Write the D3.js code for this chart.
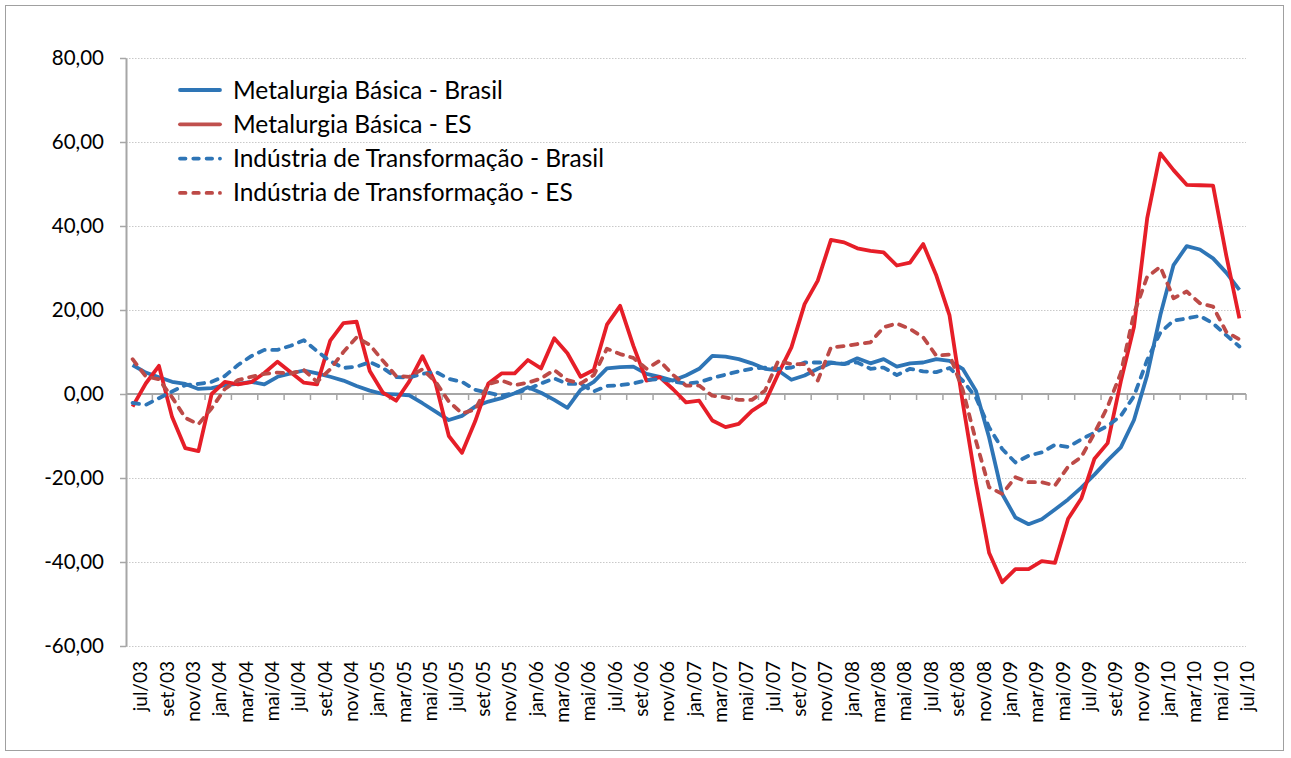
<!DOCTYPE html>
<html>
<head>
<meta charset="utf-8">
<script src="https://cdn.jsdelivr.net/npm/d3@7"></script>
<style>
  body { margin: 0; background: #fff; }
  svg { display: block; font-family: Lato, "Open Sans", sans-serif; }
</style>
</head>
<body>
<div id="grafico"></div>
<script>
/*************************** DADOS ***************************/
// meses (jul/03 a jul/10)
var meses = [
  'jul/03','ago/03','set/03','out/03','nov/03','dez/03',
  'jan/04','fev/04','mar/04','abr/04','mai/04','jun/04','jul/04','ago/04','set/04','out/04','nov/04','dez/04',
  'jan/05','fev/05','mar/05','abr/05','mai/05','jun/05','jul/05','ago/05','set/05','out/05','nov/05','dez/05',
  'jan/06','fev/06','mar/06','abr/06','mai/06','jun/06','jul/06','ago/06','set/06','out/06','nov/06','dez/06',
  'jan/07','fev/07','mar/07','abr/07','mai/07','jun/07','jul/07','ago/07','set/07','out/07','nov/07','dez/07',
  'jan/08','fev/08','mar/08','abr/08','mai/08','jun/08','jul/08','ago/08','set/08','out/08','nov/08','dez/08',
  'jan/09','fev/09','mar/09','abr/09','mai/09','jun/09','jul/09','ago/09','set/09','out/09','nov/09','dez/09',
  'jan/10','fev/10','mar/10','abr/10','mai/10','jun/10','jul/10'
];

var metalurgiaBrasil = [
  6.9, 5.1, 4.0, 2.9, 2.4, 1.2,
  1.4, 2.1, 2.4, 2.9, 2.3, 4.1, 4.9, 5.6, 4.9, 4.1, 3.2, 1.9,
  0.8, 0.0, -0.1, -0.3, -2.2, -4.2, -6.2, -5.2, -3.0, -1.8, -1.0, 0.2,
  1.6, 0.3, -1.4, -3.3, 1.0, 2.9, 6.1, 6.4, 6.5, 4.8, 4.1, 3.2,
  4.4, 6.0, 9.1, 8.9, 8.3, 7.3, 6.0, 5.6, 3.4, 4.4, 6.0, 7.4,
  7.1, 8.5, 7.3, 8.3, 6.5, 7.3, 7.5, 8.3, 7.9, 6.0, 0.8, -10.3,
  -23.8, -29.4, -31.0, -29.8, -27.5, -25.1, -22.3, -19.2, -15.8, -12.7, -6.2, 4.5,
  18.8, 30.7, 35.2, 34.4, 32.3, 28.9, 24.8
];

var metalurgiaES = [
  -3.0, 2.5, 6.7, -5.5, -12.9, -13.6,
  0.0, 2.9, 2.3, 2.8, 5.0, 7.7, 5.2, 2.7, 2.3, 12.7, 16.9, 17.2,
  5.5, 0.3, -1.6, 3.0, 9.0, 2.5, -10.0, -14.0, -6.5, 2.5, 4.9, 4.9,
  8.1, 6.1, 13.3, 9.7, 4.1, 5.7, 16.5, 21.0, 11.5, 3.2, 4.0, 1.2,
  -2.0, -1.6, -6.3, -7.9, -7.1, -4.0, -2.0, 4.8, 11.1, 21.4, 27.0, 36.7,
  36.1, 34.7, 34.1, 33.7, 30.6, 31.3, 35.7, 28.2, 18.7, -2.0, -21.0, -37.8,
  -44.8, -41.7, -41.7, -39.8, -40.2, -29.7, -24.9, -15.4, -11.7, 3.0, 16.0, 41.8,
  57.3, 53.3, 49.8, 49.7, 49.6, 33.0, 18.0
];

var industriaBrasil = [
  -2.1, -2.6, -1.0, 0.6, 2.1, 2.4,
  2.9, 4.3, 6.9, 9.0, 10.5, 10.5, 11.5, 12.8, 10.2, 7.8, 6.2, 6.5,
  7.6, 6.2, 4.0, 3.9, 4.8, 5.3, 3.6, 2.9, 1.0, 0.3, -0.4, 0.2,
  1.1, 2.5, 3.7, 2.4, 2.4, 0.6, 1.9, 2.1, 2.5, 3.3, 3.6, 3.0,
  2.5, 2.8, 3.8, 4.6, 5.4, 6.0, 6.3, 6.0, 6.3, 7.5, 7.5, 7.5,
  7.2, 7.5, 6.0, 6.3, 4.5, 6.0, 5.4, 5.2, 6.2, 3.2, -0.8, -7.9,
  -13.1, -16.3, -14.7, -13.9, -12.1, -12.6, -10.8, -9.2, -7.6, -5.2, -0.5, 8.1,
  14.6, 17.5, 18.0, 18.6, 16.8, 14.0, 11.3
];

var industriaES = [
  8.3, 4.2, 3.5, -0.8, -5.7, -7.2,
  -3.4, 1.2, 3.3, 4.1, 4.8, 5.1, 4.9, 5.7, 2.9, 5.9, 10.0, 13.5,
  11.7, 7.9, 4.3, 4.1, 5.9, 2.9, -1.8, -4.6, -3.7, 2.4, 3.2, 2.1,
  2.7, 3.7, 5.7, 3.3, 2.5, 4.5, 10.8, 9.5, 8.6, 6.0, 7.9, 4.6,
  2.0, 2.0, -0.4, -0.8, -1.4, -1.4, 0.8, 7.9, 7.1, 7.1, 3.2, 11.1,
  11.4, 11.9, 12.3, 15.9, 16.8, 15.5, 13.5, 9.1, 9.4, 1.0, -11.1, -22.2,
  -23.8, -19.8, -21.0, -21.0, -21.8, -17.3, -15.0, -9.3, -3.0, 5.0, 19.2, 27.9,
  30.3, 22.8, 24.4, 21.6, 20.8, 14.8, 13.0
];

var ticksY = [-60, -40, -20, 0, 20, 40, 60, 80];

var nomesSeries = [
  'Metalurgia Básica - Brasil',
  'Metalurgia Básica - ES',
  'Indústria de Transformação - Brasil',
  'Indústria de Transformação - ES'
];

/*************************** DESENHO ***************************/
var azul = '#2e75b6';
var vermelho = '#e61e28';
var vermelhoEscuro = '#bd4a47';
var cinza = '#a6a6a6';

var largura = 1291, altura = 758;
var esq = 126, dir = 1246, topo = 58, base = 646;

var series = [
  { dados: metalurgiaBrasil, cor: azul, corLegenda: azul, traco: null },
  { dados: metalurgiaES, cor: vermelho, corLegenda: '#c0504d', traco: null },
  { dados: industriaBrasil, cor: azul, corLegenda: azul, traco: '6.5,7.5' },
  { dados: industriaES, cor: vermelhoEscuro, corLegenda: vermelhoEscuro, traco: '6.5,7.5' }
];

var svg = d3.select('#grafico').append('svg')
    .attr('width', largura)
    .attr('height', altura);

// moldura do gráfico
svg.append('rect')
    .attr('x', 5.5).attr('y', 5.5)
    .attr('width', 1278).attr('height', 745)
    .attr('fill', '#fff')
    .attr('stroke', '#a0a0a0')
    .attr('stroke-width', 1);

var x = d3.scaleBand().domain(meses).range([esq, dir]).padding(0);
var y = d3.scaleLinear().domain([-60, 80]).range([base, topo]);

function cx(i) { return x(meses[i]) + x.bandwidth() / 2; }

// linhas de grade pontilhadas
svg.append('g').selectAll('line')
    .data(ticksY.filter(function (d) { return d !== 0; }))
    .enter().append('line')
    .attr('x1', esq).attr('x2', dir)
    .attr('y1', function (d) { return Math.round(y(d)) + 0.5; })
    .attr('y2', function (d) { return Math.round(y(d)) + 0.5; })
    .attr('stroke', '#c9c9c9')
    .attr('stroke-width', 1)
    .attr('stroke-dasharray', '1.5,1.5');

// eixo Y (formato 0,00 com hífen no sinal)
var eixoY = d3.axisLeft(y)
    .tickValues(ticksY)
    .tickSize(6)
    .tickSizeOuter(0)
    .tickPadding(16)
    .tickFormat(function (d) {
        return d3.format('.2f')(d).replace('.', ',').replace('\u2212', '-');
    });

var gY = svg.append('g')
    .attr('transform', 'translate(' + esq + ',0)')
    .call(eixoY);
gY.select('.domain').attr('stroke', cinza).attr('stroke-width', 2);
gY.selectAll('.tick line').attr('stroke', cinza).attr('stroke-width', 1.5);
gY.selectAll('.tick text')
    .attr('fill', '#000')
    .style('font-size', '20.5px')
    .style('font-family', 'Lato, "Open Sans", sans-serif');

// eixo X (linha do zero)
var y0 = y(0);
svg.append('line')
    .attr('x1', esq).attr('x2', dir)
    .attr('y1', y0).attr('y2', y0)
    .attr('stroke', cinza).attr('stroke-width', 2.2);

var idxPares = meses.map(function (d, i) { return i; }).filter(function (i) { return i % 2 === 0; });

svg.append('g').selectAll('line')
    .data(idxPares.filter(function (i) { return i > 0; }).concat([meses.length]))
    .enter().append('line')
    .attr('x1', function (i) { return i < meses.length ? x(meses[i]) : dir; })
    .attr('x2', function (i) { return i < meses.length ? x(meses[i]) : dir; })
    .attr('y1', y0).attr('y2', y0 + 6)
    .attr('stroke', cinza).attr('stroke-width', 1.5);

// rótulos dos meses (um a cada dois)
svg.append('g').selectAll('text')
    .data(idxPares)
    .enter().append('text')
    .text(function (i) { return meses[i]; })
    .attr('transform', function (i) {
        return 'translate(' + (cx(i) + 8) + ',' + (base + 15) + ') rotate(-90)';
    })
    .attr('dy', '0.35em')
    .attr('text-anchor', 'end')
    .style('font-size', '19px')
    .attr('fill', '#000');

// séries
var linha = d3.line()
    .x(function (d, i) { return cx(i); })
    .y(function (d) { return y(d); });

svg.append('g').selectAll('path')
    .data(series)
    .enter().append('path')
    .attr('d', function (s) { return linha(s.dados); })
    .attr('fill', 'none')
    .attr('stroke', function (s) { return s.cor; })
    .attr('stroke-width', 3.8)
    .attr('stroke-linejoin', 'round')
    .attr('stroke-linecap', function (s) { return s.traco ? 'round' : 'butt'; })
    .attr('stroke-dasharray', function (s) { return s.traco; });

// legenda
var legenda = svg.append('g').attr('transform', 'translate(178,90)');
var itens = legenda.selectAll('g')
    .data(series)
    .enter().append('g')
    .attr('transform', function (d, i) { return 'translate(0,' + (i * 34.3) + ')'; });

itens.append('line')
    .attr('x1', 2).attr('x2', 42)
    .attr('y1', 0).attr('y2', 0)
    .attr('stroke', function (s) { return s.corLegenda; })
    .attr('stroke-width', 3.8)
    .attr('stroke-linecap', 'round')
    .attr('stroke-dasharray', function (s) { return s.traco ? '5.5,7.8' : null; });

itens.append('text')
    .text(function (d, i) { return nomesSeries[i]; })
    .attr('x', 55)
    .attr('dy', '0.35em')
    .style('font-size', '24.5px')
    .attr('fill', '#000');
</script>
</body>
</html>
